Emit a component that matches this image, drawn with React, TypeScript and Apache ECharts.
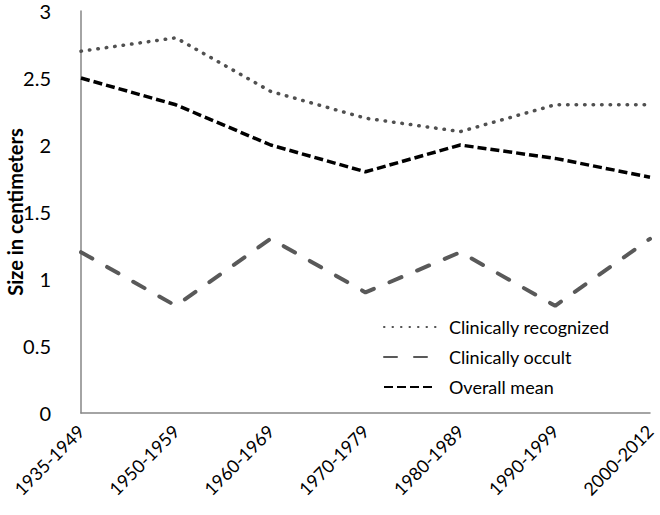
import React, { useEffect, useRef } from "react";
import * as echarts from "echarts";

const categories = ["1935-1949", "1950-1959", "1960-1969", "1970-1979", "1980-1989", "1990-1999", "2000-2012"];
const clinicallyRecognized = [2.7, 2.8, 2.4, 2.2, 2.1, 2.3, 2.3];
const clinicallyOccult = [1.2, 0.8, 1.3, 0.9, 1.2, 0.8, 1.3];
const overallMean = [2.5, 2.3, 2.0, 1.8, 2.0, 1.9, 1.76];

const FONT = "Lato, 'Liberation Sans', sans-serif";

export default function App() {
  const ref = useRef<HTMLDivElement>(null);
  useEffect(() => {
    if (!ref.current) return;
    const chart = echarts.init(ref.current, undefined, { renderer: "svg" });
    chart.setOption({
      animation: false,
      backgroundColor: "#ffffff",
      textStyle: { fontFamily: FONT },
      grid: { left: 81, right: 10, top: 11, bottom: 102, containLabel: false, outerBoundsMode: "none" },
      legend: {
        orient: "vertical",
        left: 378,
        top: 313,
        itemWidth: 52,
        itemHeight: 14,
        itemGap: 12,
        itemStyle: { opacity: 0 },
        textStyle: { fontSize: 18, color: "#000", fontFamily: FONT, padding: [0, 0, 0, 8] },
        data: ["Clinically recognized", "Clinically occult", "Overall mean"],
      },
      xAxis: {
        type: "category",
        data: categories,
        boundaryGap: false,
        axisLine: { lineStyle: { color: "#868686", width: 1.5 } },
        axisTick: { show: false },
        axisLabel: { rotate: 45, fontSize: 18, color: "#000", margin: 15, interval: 0, fontFamily: FONT },
      },
      yAxis: {
        type: "value",
        min: 0,
        max: 3,
        interval: 0.5,
        name: "Size in centimeters",
        nameLocation: "middle",
        nameGap: 56,
        nameMoveOverlap: false,
        nameTextStyle: { fontSize: 20, fontWeight: "bold", color: "#000", fontFamily: FONT },
        axisLine: { show: true, lineStyle: { color: "#868686", width: 1.5 } },
        axisTick: { show: false },
        splitLine: { show: false },
        axisLabel: { fontSize: 20, color: "#000", margin: 30, fontFamily: FONT },
      },
      series: [
        {
          name: "Clinically recognized",
          type: "line",
          data: clinicallyRecognized,
          symbol: "none",
          lineStyle: { color: "#505050", width: 3.5, type: [0.5, 8], cap: "round" },
          itemStyle: { color: "#505050" },
        },
        {
          name: "Clinically occult",
          type: "line",
          data: clinicallyOccult,
          symbol: "none",
          lineStyle: { color: "#595959", width: 4, type: [13, 17], cap: "round" },
          itemStyle: { color: "#595959" },
        },
        {
          name: "Overall mean",
          type: "line",
          data: overallMean,
          symbol: "none",
          lineStyle: { color: "#000000", width: 3.5, type: [9, 4] },
          itemStyle: { color: "#000000" },
        },
      ],
    });
    return () => chart.dispose();
  }, []);
  return <div ref={ref} style={{ width: 660, height: 515, position: "absolute", left: 0, top: 0 }} />;
}
